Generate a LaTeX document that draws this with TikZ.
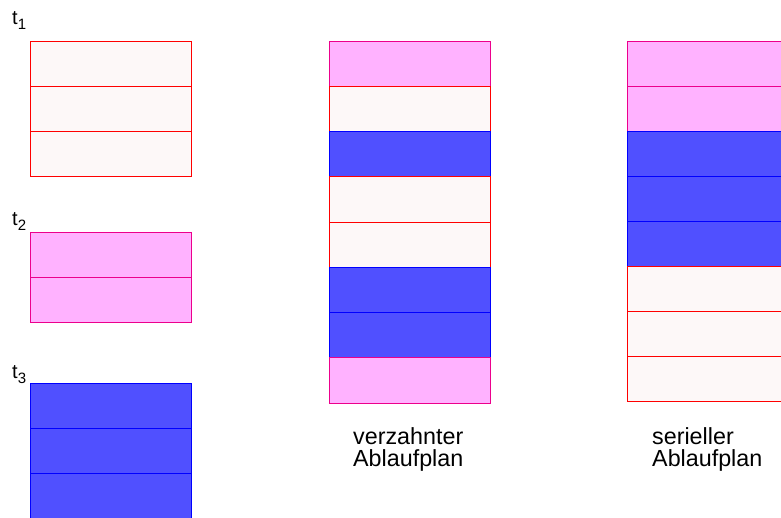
\documentclass[tikz,border=0pt]{standalone}
\usepackage{fontspec}
\setmainfont{Liberation Sans}
\usetikzlibrary{positioning}

\definecolor{hell}{RGB}{253,248,248}
\definecolor{rosa}{RGB}{255,178,255}
\definecolor{blau}{RGB}{80,80,255}

\newcommand{\tidx}[1]{t\raisebox{-5pt}{\fontsize{15}{15}\selectfont #1}}

\begin{document}
\begin{tikzpicture}[x=1pt,y=-1pt,
	zeile/.style={rectangle,minimum width=161pt,minimum height=45pt,inner sep=0pt,outer sep=0pt,line width=0.8pt},
	tA/.style={zeile,draw=red,fill=hell},
	tB/.style={zeile,draw=magenta,fill=rosa},
	tC/.style={zeile,draw=blue,fill=blau},
	tlabel/.style={font=\fontsize{20}{22}\selectfont,inner sep=0pt,anchor=base west},
	plan/.style={font=\fontsize{23.3}{22}\selectfont,align=left,inner sep=0pt,anchor=base west}]
	\useasboundingbox (0,0) rectangle (781,517);

	% Transaktionen
	\node[tlabel] (t1) at (12,24) {\tidx{1}};
	\node[tA,anchor=north west] (a1) at (30,41) {};
	\node[tA,below=0pt of a1] (a2) {};
	\node[tA,below=0pt of a2] (a3) {};

	\node[tlabel] (t2) at (12,225) {\tidx{2}};
	\node[tB,anchor=north west] (b1) at (30,232) {};
	\node[tB,below=0pt of b1] (b2) {};

	\node[tlabel] (t3) at (12,378) {\tidx{3}};
	\node[tC,anchor=north west] (c1) at (30,383) {};
	\node[tC,below=0pt of c1] (c2) {};
	\node[tC,below=0pt of c2] (c3) {};

	% verzahnt
	\begin{scope}[zeile/.append style={minimum height=45.25pt}]
	\node[tB,anchor=north west] (v1) at (329,41) {};
	\node[tA,below=0pt of v1] (v2) {};
	\node[tC,below=0pt of v2] (v3) {};
	\node[tA,below=0pt of v3] (v4) {};
	\node[tA,below=0pt of v4] (v5) {};
	\node[tC,below=0pt of v5] (v6) {};
	\node[tC,below=0pt of v6] (v7) {};
	\node[tB,below=0pt of v7] (v8) {};
	\end{scope}
	\node[plan] (verz) at (353,466) {verzahnter\\Ablaufplan};

	% seriell
	\node[tB,anchor=north west] (s1) at (627,41) {};
	\node[tB,below=0pt of s1] (s2) {};
	\node[tC,below=0pt of s2] (s3) {};
	\node[tC,below=0pt of s3] (s4) {};
	\node[tC,below=0pt of s4] (s5) {};
	\node[tA,below=0pt of s5] (s6) {};
	\node[tA,below=0pt of s6] (s7) {};
	\node[tA,below=0pt of s7] (s8) {};
	\node[plan] (ser) at (652,466) {serieller\\Ablaufplan};
\end{tikzpicture}
\end{document}
